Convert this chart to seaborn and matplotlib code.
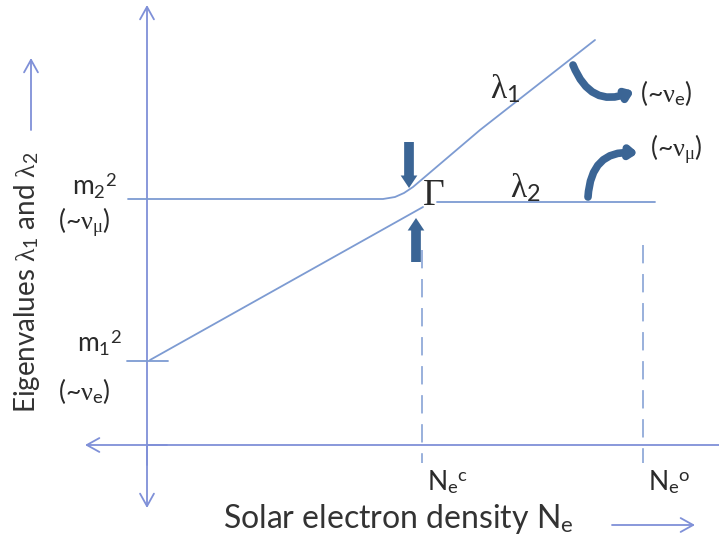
import matplotlib
matplotlib.use("Agg")
import matplotlib.pyplot as plt
from matplotlib.patches import FancyArrowPatch
import seaborn as sns

sns.set_theme(style="white")
plt.rcParams["font.family"] = ["Lato", "DejaVu Sans"]
plt.rcParams["mathtext.fontset"] = "custom"
plt.rcParams["mathtext.rm"] = "Liberation Serif"
plt.rcParams["mathtext.it"] = "Liberation Serif:italic"
plt.rcParams["mathtext.sf"] = "Lato"
plt.rcParams["mathtext.default"] = "rm"

# Level scheme (x: electron density, y: eigenvalue), arbitrary units
m1_sq = 84
m2_sq = 246
ne_c = 275
ne_o = 496

# Upper eigenvalue: flat at m2^2, bends near resonance, then rises
lam1_x = [-19, 236, 248, 257, 266, 333, 448]
lam1_y = [246, 246, 248, 252, 258, 315, 405]
# Lower eigenvalue: rises from m1^2 to resonance, then stays flat
lam2a_x = [3, 276]
lam2a_y = [85, 238]
lam2b_x = [290, 508]
lam2b_y = [243, 243]

line_c = "#7d9bd2"
axis_c = "#7f90d8"
dark_c = "#3b6595"
text_c = "#2a2a2a"

fig = plt.figure(figsize=(7.19, 5.46), dpi=100)
ax = fig.add_axes([0, 0, 1, 1])
ax.set_xlim(-147, 572)
ax.set_ylim(-101, 445)
ax.axis("off")

def arrow(p0, p1, style, color, lw, **kw):
    ax.add_patch(FancyArrowPatch(p0, p1, arrowstyle=style, color=color,
                                 lw=lw, mutation_scale=1, shrinkA=0,
                                 shrinkB=0, **kw))

# Axes with arrowheads
arrow((0, -20), (0, 440), "->,head_length=9,head_width=5", axis_c, 1.3)
arrow((0, 0), (0, -63), "->,head_length=9,head_width=5", axis_c, 1.3)
arrow((20, 0), (-62, 0), "->,head_length=9,head_width=5", axis_c, 1.3)
ax.plot([0, 572], [0, 0], color=axis_c, lw=1.3)

# Eigenvalue curves
sns.lineplot(x=lam1_x, y=lam1_y, sort=False, estimator=None, ax=ax,
             color=line_c, lw=1.3)
sns.lineplot(x=lam2a_x, y=lam2a_y, sort=False, estimator=None, ax=ax,
             color=line_c, lw=1.3)
sns.lineplot(x=lam2b_x, y=lam2b_y, sort=False, estimator=None, ax=ax,
             color=line_c, lw=1.3)
ax.plot([-20, 21], [m1_sq, m1_sq], color=line_c, lw=1.3)

# Dashed markers for the critical densities
for xv, ytop in [(ne_c, 195), (ne_o, 200)]:
    ax.plot([xv, xv], [ytop, -18], color=line_c, lw=1.1,
            linestyle=(0, (12, 7)))

# Thick arrows pointing at the resonance gap
arrow((262, 303), (262, 257), "simple,head_length=9,head_width=12,tail_width=7",
      dark_c, 0)
arrow((269, 183), (269, 227), "simple,head_length=9,head_width=12,tail_width=7",
      dark_c, 0)

# Curved arrows indicating flavour content
arrow((426, 380), (487, 354), "-|>,head_length=4,head_width=3", dark_c, 5.5,
      connectionstyle="arc3,rad=0.5", capstyle="round")
arrow((441, 248), (491, 292), "-|>,head_length=4,head_width=3", dark_c, 5.5,
      connectionstyle="arc3,rad=-0.5", capstyle="round")

# Labels
lab = dict(color=text_c, ha="left", va="baseline")
ax.text(275, 240, r"$\Gamma$", fontsize=27, **lab)
ax.text(343, 347, r"$\lambda_{\mathsf{1}}$", fontsize=24, **lab)
ax.text(363, 248, r"$\lambda_{\mathsf{2}}$", fontsize=24, **lab)
ax.text(-75, 251, r"m$_{\mathsf{2}}{}^{\mathsf{2}}$", fontsize=19, **lab)
ax.text(-89, 215, r"(~$\nu_{\mu}$)", fontsize=19, **lab)
ax.text(-70, 94, r"m$_{\mathsf{1}}{}^{\mathsf{2}}$", fontsize=19, **lab)
ax.text(-89, 45, r"(~$\nu_{\mathsf{e}}$)", fontsize=19, **lab)
ax.text(493, 343, r"(~$\nu_{\mathsf{e}}$)", fontsize=19, **lab)
ax.text(503, 288, r"(~$\nu_{\mu}$)", fontsize=19, **lab)
ax.text(280, -45, r"N$_{\mathsf{e}}{}^{\mathsf{c}}$", fontsize=19, **lab)
ax.text(501, -45, r"N$_{\mathsf{e}}{}^{\mathsf{o}}$", fontsize=19, **lab)

ax.text(76, -83, r"Solar electron density N$_{\mathsf{e}}$", fontsize=23,
        color="#333333", ha="left", va="baseline")
arrow((465, -80), (548, -80), "->,head_length=9,head_width=5", axis_c, 1.3)

ax.text(-120, 163, r"Eigenvalues $\lambda_{\mathsf{1}}$ and $\lambda_{\mathsf{2}}$",
        fontsize=20, rotation=90, ha="center", va="center", color="#333333")
arrow((-116, 315), (-116, 387), "->,head_length=9,head_width=5", axis_c, 1.3)

fig.savefig("out.png", dpi=100)
